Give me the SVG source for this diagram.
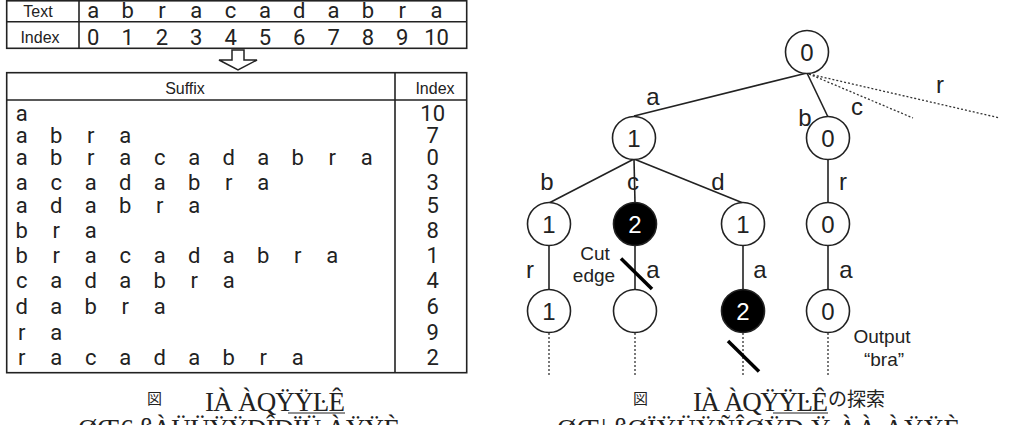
<svg xmlns="http://www.w3.org/2000/svg" width="1015" height="425" viewBox="0 0 1015 425">
<defs>
<style>
.bd{fill:none;stroke:#222;stroke-width:1.6}
.hd{font-family:"Liberation Sans",Arial,sans-serif;font-size:16px;fill:#222;text-anchor:middle}
.ch{font-family:Roboto,"Liberation Sans",sans-serif;font-size:22px;fill:#222;text-anchor:middle}
.nd{fill:#fff;stroke:#222;stroke-width:1.6}
.nb{fill:#000;stroke:#222;stroke-width:1.6}
.nt{font-family:"Liberation Sans",Arial,sans-serif;font-size:24px;fill:#222;text-anchor:middle}
.nw{font-family:"Liberation Sans",Arial,sans-serif;font-size:24px;fill:#fff;text-anchor:middle}
.lb{font-family:"Liberation Sans",Arial,sans-serif;font-size:24px;fill:#222;text-anchor:middle}
.sm{font-family:"Liberation Sans",Arial,sans-serif;font-size:19px;fill:#222;text-anchor:middle}
.ed{stroke:#222;stroke-width:1.6;fill:none}
.dt{stroke:#333;stroke-width:1.3;fill:none;stroke-dasharray:2 2}
.cut{stroke:#000;stroke-width:3.5}
.cap{font-family:"Liberation Serif","Times New Roman",serif;font-size:27px;fill:#222}
.cj{font-family:"Noto Sans CJK JP",sans-serif;fill:#222}
</style>
</defs>
<rect width="1015" height="425" fill="#fff"/>

<g id="text-table">
<rect class="bd" x="6.7" y="0.8" width="460" height="47.5"/>
<line class="bd" x1="6.7" y1="21.7" x2="466.7" y2="21.7"/>
<line class="bd" x1="79" y1="0.8" x2="79" y2="48.3"/>
<text class="hd" x="38" y="16.5">Text</text>
<text class="hd" x="40" y="43.3">Index</text>
<text class="ch" x="93.3 127.6 162 196.3 230.6 265 299.3 333.6 368 402.3 436.6" y="18.3">abracadabra</text>
<text class="ch" x="93.3 127.6 162 196.3 230.6 265 299.3 333.6 368 402.3" y="45">0123456789</text>
<text class="ch" x="436.6" y="45">10</text>
</g>

<g id="down-arrow">
<polygon points="232,50 244,50 244,60 257,60 238,70 219,60 232,60" fill="#fff" stroke="#222" stroke-width="1.5" stroke-linejoin="miter"/>
</g>

<g id="suffix-table">
<rect class="bd" x="6.7" y="72.7" width="460" height="300"/>
<line class="bd" x1="6.7" y1="100" x2="466.7" y2="100"/>
<line class="bd" x1="395" y1="72.7" x2="395" y2="372.7"/>
<text class="hd" x="185" y="94.3">Suffix</text>
<text class="hd" x="435" y="94.3">Index</text>
<text class="ch" x="21.7" y="120.5">a</text>
<text class="ch" x="21.7 56.2 90.7 125.2" y="142.5">abra</text>
<text class="ch" x="21.7 56.2 90.7 125.2 159.7 194.2 228.7 263.2 297.7 332.2 366.7" y="165">abracadabra</text>
<text class="ch" x="21.7 56.2 90.7 125.2 159.7 194.2 228.7 263.2" y="189.5">acadabra</text>
<text class="ch" x="21.7 56.2 90.7 125.2 159.7 194.2" y="213">adabra</text>
<text class="ch" x="21.7 56.2 90.7" y="237.5">bra</text>
<text class="ch" x="21.7 56.2 90.7 125.2 159.7 194.2 228.7 263.2 297.7 332.2" y="263">bracadabra</text>
<text class="ch" x="21.7 56.2 90.7 125.2 159.7 194.2 228.7" y="288">cadabra</text>
<text class="ch" x="21.7 56.2 90.7 125.2 159.7" y="314">dabra</text>
<text class="ch" x="21.7 56.2" y="339.5">ra</text>
<text class="ch" x="21.7 56.2 90.7 125.2 159.7 194.2 228.7 263.2 297.7" y="364.5">racadabra</text>
<text class="ch" x="432.7" y="120.5">10</text>
<text class="ch" x="432.7" y="142.5">7</text>
<text class="ch" x="432.7" y="165">0</text>
<text class="ch" x="432.7" y="189.5">3</text>
<text class="ch" x="432.7" y="213">5</text>
<text class="ch" x="432.7" y="237.5">8</text>
<text class="ch" x="432.7" y="263">1</text>
<text class="ch" x="432.7" y="288">4</text>
<text class="ch" x="432.7" y="314">6</text>
<text class="ch" x="432.7" y="339.5">9</text>
<text class="ch" x="432.7" y="364.5">2</text>
</g>

<g id="connectors">
<line class="ed" x1="807" y1="73" x2="634" y2="116"/>
<line class="ed" x1="807" y1="73" x2="828" y2="117"/>
<line class="dt" x1="809" y1="74" x2="913" y2="118"/>
<line class="dt" x1="809" y1="74" x2="1000" y2="118"/>
<line class="ed" x1="634" y1="159" x2="549" y2="203"/>
<line class="ed" x1="634" y1="159" x2="635" y2="203"/>
<line class="ed" x1="634" y1="159" x2="743" y2="203"/>
<line class="ed" x1="828" y1="159" x2="828" y2="203"/>
<line class="ed" x1="549" y1="245" x2="549" y2="290"/>
<line class="ed" x1="635" y1="245" x2="635" y2="290"/>
<line class="ed" x1="743" y1="245" x2="743" y2="290"/>
<line class="ed" x1="828" y1="245" x2="828" y2="290"/>
<line class="dt" x1="549" y1="333" x2="549" y2="376"/>
<line class="dt" x1="635" y1="333" x2="635" y2="376"/>
<line class="dt" x1="743" y1="333" x2="743" y2="376"/>
<line class="dt" x1="828" y1="333" x2="828" y2="376"/>
<line class="cut" x1="621" y1="258.5" x2="652" y2="289"/>
<line class="cut" x1="728" y1="341" x2="759" y2="371.5"/>
<text class="lb" x="653" y="105">a</text>
<text class="lb" x="805" y="126">b</text>
<text class="lb" x="857" y="115">c</text>
<text class="lb" x="940" y="93">r</text>
<text class="lb" x="547" y="190">b</text>
<text class="lb" x="633" y="190">c</text>
<text class="lb" x="718" y="190">d</text>
<text class="lb" x="843" y="190">r</text>
<text class="lb" x="530" y="278">r</text>
<text class="lb" x="653" y="278">a</text>
<text class="lb" x="760" y="278">a</text>
<text class="lb" x="846" y="278">a</text>
<text class="sm" x="595" y="260">Cut</text>
<text class="sm" x="594" y="282">edge</text>
<text class="sm" x="882" y="343" >Output</text>
<text class="sm" x="884" y="366">“bra”</text>
</g>

<g id="n-root"><circle class="nd" cx="807" cy="52" r="21.5"/><text class="nt" x="807" y="60.5">0</text></g>
<g id="n-a"><circle class="nd" cx="634" cy="138" r="21.5"/><text class="nt" x="634" y="146.5">1</text></g>
<g id="n-b"><circle class="nd" cx="828" cy="138" r="21.5"/><text class="nt" x="828" y="146.5">0</text></g>
<g id="n-ab"><circle class="nd" cx="549" cy="224" r="21.5"/><text class="nt" x="549" y="232.5">1</text></g>
<g id="n-ac"><circle class="nb" cx="635" cy="224" r="21.5"/><text class="nw" x="635" y="232.5">2</text></g>
<g id="n-ad"><circle class="nd" cx="743" cy="224" r="21.5"/><text class="nt" x="743" y="232.5">1</text></g>
<g id="n-br"><circle class="nd" cx="828" cy="224" r="21.5"/><text class="nt" x="828" y="232.5">0</text></g>
<g id="n-abr"><circle class="nd" cx="549" cy="311" r="21.5"/><text class="nt" x="549" y="319.5">1</text></g>
<g id="n-aca"><circle class="nd" cx="635" cy="311" r="21.5"/></g>
<g id="n-ada"><circle class="nb" cx="743" cy="311" r="21.5"/><text class="nw" x="743" y="319.5">2</text></g>
<g id="n-bra"><circle class="nd" cx="828" cy="311" r="21.5"/><text class="nt" x="828" y="319.5">0</text></g>

<g id="captions">
<text class="cj" x="147" y="404" font-size="15">図</text>
<text class="cap" x="205" y="411" textLength="140" lengthAdjust="spacing">IÀ ÀQŸŸĿÊ</text>
<line x1="288" y1="413" x2="345" y2="413" stroke="#222" stroke-width="1.2"/>
<text class="cap" x="78" y="438" textLength="322" lengthAdjust="spacing">ØŒ6 ßÀÜÜŸŸÐÎÐÏÜ ÀŸŸÈ</text>
<text class="cj" x="633" y="404" font-size="15">図</text>
<text class="cap" x="693" y="411" textLength="135" lengthAdjust="spacing">IÀ ÀQŸŸĿÊ</text>
<line x1="773" y1="413" x2="828" y2="413" stroke="#222" stroke-width="1.2"/>
<text class="cj" x="828" y="406" font-size="19">の探索</text>
<text class="cap" x="557" y="438" textLength="403" lengthAdjust="spacing">ØŒ¦ ßØÏŸÜŸÑÎØŸÐ Ÿ ÀÀ ÀŸŸÈ</text>
</g>
</svg>
